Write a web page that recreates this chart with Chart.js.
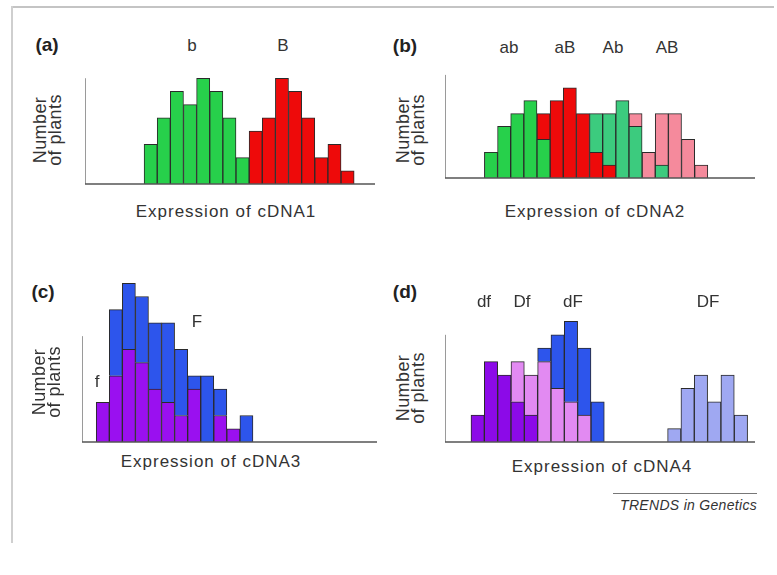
<!DOCTYPE html>
<html lang="en">
<head>
<meta charset="UTF-8">
<title>Expression of cDNA1-4</title>
<script src="https://cdn.jsdelivr.net/npm/chart.js"></script>
<style>
  body { margin: 0; background: #fff; font-family: "Liberation Sans", Arial, sans-serif; color: #333; }
  #page { position: relative; width: 777px; height: 575px; overflow: hidden; }
  .frame-top { position: absolute; left: 11px; top: 6px; width: 763px; height: 2px; background: #c4c4c4; }
  .frame-left { position: absolute; left: 11px; top: 6px; width: 2px; height: 537px; background: #cfcfcf; }
  canvas { position: absolute; }
  .t { position: absolute; white-space: nowrap; transform: translate(-50%, -50%); font-size: 17px; }
  .panel { font-weight: bold; font-size: 19px; color: #222; }
  .xt { letter-spacing: 1px; }
  .yt { transform: translate(-50%, -50%) rotate(-90deg); text-align: center; line-height: 15px;
        font-size: 18px; letter-spacing: 0.4px; }
  .trends { position: absolute; left: 613px; top: 493px; width: 144px; border-top: 1px solid #777;
            font-size: 14px; font-style: italic; text-align: right; padding-top: 3px; letter-spacing: 0.3px; }
</style>
</head>
<body>
<div id="page">
  <div class="frame-top"></div>
  <div class="frame-left"></div>

  <canvas id="chart-a"></canvas>
  <canvas id="chart-b"></canvas>
  <canvas id="chart-c"></canvas>
  <canvas id="chart-d"></canvas>

  <!-- (a) -->
  <div class="t panel" style="left:47px; top:45px">(a)</div>
  <div class="t" style="left:192px; top:46px">b</div>
  <div class="t" style="left:283px; top:46px">B</div>
  <div class="t yt" style="left:48px; top:130px">Number<br>of plants</div>
  <div class="t xt" style="left:226px; top:212px">Expression of cDNA1</div>

  <!-- (b) -->
  <div class="t panel" style="left:405px; top:46px">(b)</div>
  <div class="t" style="left:509px; top:48px">ab</div>
  <div class="t" style="left:565px; top:48px">aB</div>
  <div class="t" style="left:613px; top:48px">Ab</div>
  <div class="t" style="left:667px; top:48px">AB</div>
  <div class="t yt" style="left:411px; top:130px">Number<br>of plants</div>
  <div class="t xt" style="left:595px; top:212px">Expression of cDNA2</div>

  <!-- (c) -->
  <div class="t panel" style="left:43px; top:292px">(c)</div>
  <div class="t" style="left:197px; top:322px">F</div>
  <div class="t" style="left:97px; top:382px">f</div>
  <div class="t yt" style="left:47px; top:382px">Number<br>of plants</div>
  <div class="t xt" style="left:211px; top:462px">Expression of cDNA3</div>

  <!-- (d) -->
  <div class="t panel" style="left:405px; top:292px">(d)</div>
  <div class="t" style="left:484px; top:302px">df</div>
  <div class="t" style="left:522px; top:302px">Df</div>
  <div class="t" style="left:573px; top:302px">dF</div>
  <div class="t" style="left:708px; top:302px">DF</div>
  <div class="t yt" style="left:411px; top:388px">Number<br>of plants</div>
  <div class="t xt" style="left:602px; top:467px">Expression of cDNA4</div>

  <div class="trends">TRENDS in Genetics</div>
</div>

<script>
// ---- data (bin index along expression axis, number of plants per bin) ----
const binsA   = [0, 1, 2, 3, 4, 5, 6, 7, 8, 9, 10, 11, 12, 13, 14, 15];
const aLowB   = [3, 5, 7, 6, 8, 7, 5, 2, 0, 0, 0, 0, 0, 0, 0, 0];   // b
const aHighB  = [0, 0, 0, 0, 0, 0, 0, 0, 4, 5, 8, 7, 5, 2, 3, 1];   // B

const binsB   = [0, 1, 2, 3, 4, 5, 6, 7, 8, 9, 10, 11, 12, 13, 14, 15, 16];
const bAb     = [2, 4, 5, 6, 3, 0, 0, 0, 0, 0, 0, 0, 0, 0, 0, 0, 0]; // ab
const baB     = [0, 0, 0, 0, 2, 6, 7, 5, 2, 1, 0, 0, 0, 0, 0, 0, 0]; // aB
const bAbUp   = [0, 0, 0, 0, 0, 0, 0, 0, 3, 4, 6, 4, 0, 1, 0, 0, 0]; // Ab
const bAB     = [0, 0, 0, 0, 0, 0, 0, 0, 0, 0, 0, 1, 2, 4, 5, 3, 1]; // AB

const binsC   = [0, 1, 2, 3, 4, 5, 6, 7, 8, 9, 10, 11];
const cLowF   = [3, 5, 7, 6, 4, 3, 2, 4, 0, 2, 1, 0];   // f
const cHighF  = [0, 5, 5, 5, 5, 6, 5, 1, 5, 2, 0, 2];   // F

const binsD   = [0, 1, 2, 3, 4, 5, 6, 7, 8, 9, 14.75, 15.75, 16.75, 17.75, 18.75, 19.75];
const ddf     = [2, 6, 5, 3, 2, 0, 0, 0, 0, 0, 0, 0, 0, 0, 0, 0];  // df
const dDf     = [0, 0, 0, 3, 3, 6, 4, 3, 2, 0, 0, 0, 0, 0, 0, 0];  // Df
const ddF     = [0, 0, 0, 0, 0, 1, 4, 6, 5, 3, 0, 0, 0, 0, 0, 0];  // dF
const dDF     = [0, 0, 0, 0, 0, 0, 0, 0, 0, 0, 1, 4, 5, 3, 5, 2];  // DF

const yAxisTop = 8;   // drawn height of the y axis line, in plants

// ---- colours ----
const GREEN = '#27d04b', RED = '#ee0a0a', MINT = '#3ccb7e', PINK = '#f58a9c';
const VIOLET = '#9a10f0', BLUE = '#2d55ec', PURPLE = '#8c0ae8', ORCHID = '#e28af2', PERI = '#9fa8f2';

// axis lines: full-width baseline and a short y axis
const axesPlugin = {
  id: 'axes',
  afterDatasetsDraw(chart) {
    const { ctx, chartArea, scales: { y } } = chart;
    const y0 = y.getPixelForValue(0);
    ctx.save();
    ctx.strokeStyle = '#9a9a9a';
    ctx.lineWidth = 1;
    ctx.beginPath();
    ctx.moveTo(chartArea.left + 0.5, y0);
    ctx.lineTo(chartArea.left + 0.5, y.getPixelForValue(yAxisTop));
    ctx.stroke();
    ctx.strokeStyle = '#555';
    ctx.lineWidth = 1.5;
    ctx.beginPath();
    ctx.moveTo(chartArea.left, y0);
    ctx.lineTo(chartArea.right, y0);
    ctx.stroke();
    ctx.restore();
  }
};

function histogram(id, box, bins, series) {
  const pad = 4;
  const w = box.right - box.left;
  const h = Math.round(box.yMax * box.unit);
  const canvas = document.getElementById(id);
  canvas.width = w + 2 * pad;
  canvas.height = h + 2 * pad;
  canvas.style.left = (box.left - pad) + 'px';
  canvas.style.top = Math.round(box.bottom - h - pad) + 'px';

  new Chart(canvas, {
    type: 'bar',
    data: {
      datasets: series.map(s => ({
        data: bins.map((x, i) => ({ x: x, y: s.values[i] })),
        backgroundColor: s.color,
        borderColor: '#2a2a2a',
        borderWidth: 1,
        borderSkipped: 'start',
        categoryPercentage: 1,
        barPercentage: 1
      }))
    },
    options: {
      responsive: false,
      animation: false,
      layout: { padding: pad },
      plugins: { legend: { display: false }, tooltip: { enabled: false } },
      scales: {
        x: {
          type: 'linear', display: false, stacked: true, offset: false, bounds: 'data',
          min: box.xMin, max: box.xMin + w / box.binW,
          ticks: { includeBounds: false }
        },
        y: { display: false, stacked: true, min: 0, max: box.yMax }
      }
    },
    plugins: [axesPlugin]
  });
}

histogram('chart-a', { left: 85, right: 375, bottom: 184, unit: 13.25, yMax: 9, xMin: -5.0, binW: 13.13 },
  binsA, [{ values: aLowB, color: GREEN }, { values: aHighB, color: RED }]);

histogram('chart-b', { left: 445, right: 755, bottom: 178, unit: 12.9, yMax: 9, xMin: -3.5, binW: 13.14 },
  binsB, [{ values: bAb, color: GREEN }, { values: baB, color: RED },
          { values: bAbUp, color: MINT }, { values: bAB, color: PINK }]);

histogram('chart-c', { left: 82, right: 377, bottom: 441.5, unit: 13.23, yMax: 13, xMin: -1.59, binW: 13.06 },
  binsC, [{ values: cLowF, color: VIOLET }, { values: cHighF, color: BLUE }]);

histogram('chart-d', { left: 445, right: 755, bottom: 442, unit: 13.35, yMax: 10, xMin: -2.45, binW: 13.33 },
  binsD, [{ values: ddf, color: PURPLE }, { values: dDf, color: ORCHID },
          { values: ddF, color: BLUE }, { values: dDF, color: PERI }]);
</script>
</body>
</html>
